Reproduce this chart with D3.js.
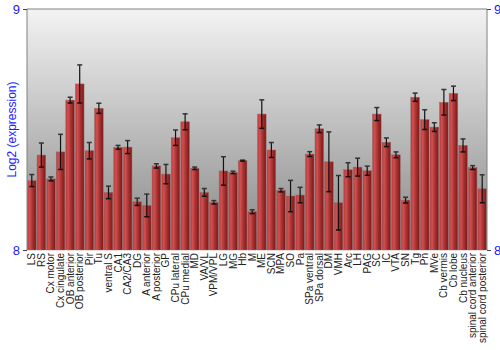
<!DOCTYPE html>
<html>
<head>
<meta charset="utf-8">
<script src="https://cdn.jsdelivr.net/npm/d3@7"></script>
<style>
  body { margin: 0; background: #fff; }
  svg { display: block; font-family: "Liberation Sans", Arial, sans-serif; }
</style>
</head>
<body>
<svg width="500" height="350" viewBox="0 0 500 350"></svg>
<script>
// Regions and their log2 expression (mean, error)
const regions = ["LS", "RS", "Cx motor", "Cx cingulate", "OB anterior", "OB posterior", "Pir", "Tu",
  "ventral S", "CA1", "CA2/CA3", "DG", "A anterior", "A posterior", "GP", "CPu lateral", "CPu medial",
  "MD", "VA/VL", "VPM/VPL", "LG", "MG", "Hb", "M", "ME", "SCN", "MPA", "SO", "Pa", "SPa ventral",
  "SPa dorsal", "DM", "VMH", "Arc", "LH", "PAG", "SC", "IC", "VTA", "SN", "Tg", "Pn", "MVe",
  "Cb vermis", "Cb lobe", "Cb nucleus", "spinal cord anterior", "spinal cord posterior"];

const means = [8.288, 8.394, 8.295, 8.407, 8.622, 8.689, 8.412, 8.588,
  8.239, 8.426, 8.427, 8.200, 8.185, 8.349, 8.315, 8.466, 8.532,
  8.339, 8.239, 8.198, 8.328, 8.322, 8.371, 8.159, 8.564, 8.415, 8.248, 8.224, 8.228, 8.398,
  8.503, 8.366, 8.196, 8.333, 8.344, 8.329, 8.564, 8.447, 8.395, 8.207, 8.634, 8.541, 8.510,
  8.613, 8.650, 8.434, 8.342, 8.254];

const errors = [0.025, 0.05, 0.008, 0.073, 0.012, 0.079, 0.034, 0.021,
  0.026, 0.008, 0.027, 0.015, 0.047, 0.009, 0.04, 0.032, 0.033,
  0.005, 0.016, 0.007, 0.059, 0.005, 0.002, 0.008, 0.059, 0.031, 0.007, 0.065, 0.032, 0.01,
  0.016, 0.124, 0.113, 0.029, 0.037, 0.019, 0.027, 0.018, 0.012, 0.012, 0.017, 0.041, 0.018,
  0.053, 0.030, 0.027, 0.008, 0.058];

const yTicks = [8, 9];

const svg = d3.select("svg");
const margin = {top: 9, right: 13, bottom: 100, left: 27};
const width = 500 - margin.left - margin.right;
const height = 350 - margin.top - margin.bottom;

const defs = svg.append("defs");

// background gradient, light at top, grey at bottom
const bg = defs.append("linearGradient").attr("id", "bg")
  .attr("x1", 0).attr("y1", 0).attr("x2", 0).attr("y2", 1);
bg.append("stop").attr("offset", "0%").attr("stop-color", "#f3f3f3");
bg.append("stop").attr("offset", "100%").attr("stop-color", "#878787");

// bar gradient, cylinder look
const barGrad = defs.append("linearGradient").attr("id", "bar")
  .attr("x1", 0).attr("y1", 0).attr("x2", 1).attr("y2", 0);
barGrad.append("stop").attr("offset", "0%").attr("stop-color", "#b53a3a");
barGrad.append("stop").attr("offset", "25%").attr("stop-color", "#d05050");
barGrad.append("stop").attr("offset", "60%").attr("stop-color", "#a83030");
barGrad.append("stop").attr("offset", "100%").attr("stop-color", "#7a1818");

const g = svg.append("g").attr("transform", `translate(${margin.left},${margin.top})`);

const x = d3.scaleBand().domain(regions).range([0, width]).paddingInner(0.1).paddingOuter(0.05);
const y = d3.scaleLinear().domain([8, 9]).range([height, 0]);

g.append("rect")
  .attr("width", width).attr("height", height)
  .attr("fill", "url(#bg)");

// bars
g.selectAll(".bar")
  .data(regions)
  .enter()
  .append("rect")
  .attr("class", "bar")
  .attr("x", d => x(d))
  .attr("y", (d, i) => y(means[i]))
  .attr("width", x.bandwidth())
  .attr("height", (d, i) => height - y(means[i]))
  .attr("fill", "url(#bar)")
  .attr("stroke", "#9a6a6a")
  .attr("stroke-width", 0.5);

// error bars
const err = g.selectAll(".err")
  .data(regions)
  .enter()
  .append("g")
  .attr("class", "err")
  .attr("transform", d => `translate(${x(d) + x.bandwidth() / 2},0)`);

err.append("line")
  .attr("y1", (d, i) => y(means[i] + errors[i]))
  .attr("y2", (d, i) => y(means[i] - errors[i]))
  .attr("stroke", "#111").attr("stroke-width", 1.2);
err.append("line")
  .attr("x1", -2.5).attr("x2", 2.5)
  .attr("y1", (d, i) => y(means[i] + errors[i]))
  .attr("y2", (d, i) => y(means[i] + errors[i]))
  .attr("stroke", "#333").attr("stroke-width", 1.5);
err.append("line")
  .attr("x1", -2.5).attr("x2", 2.5)
  .attr("y1", (d, i) => y(means[i] - errors[i]))
  .attr("y2", (d, i) => y(means[i] - errors[i]))
  .attr("stroke", "#111").attr("stroke-width", 1.5);

// frame
g.append("path")
  .attr("d", `M0,${height}V0H${width}V${height}`)
  .attr("fill", "none").attr("stroke", "#808080").attr("stroke-width", 1);

// left axis
const yAxisL = g.append("g")
  .call(d3.axisLeft(y).tickValues(yTicks).tickSize(4).tickFormat(d3.format("d")));
yAxisL.select(".domain").remove();
yAxisL.selectAll("line").attr("stroke", "#444");
yAxisL.selectAll("text").attr("fill", "#1a1aff").style("font-size", "13px");

// right axis
const yAxisR = g.append("g")
  .attr("transform", `translate(${width},0)`)
  .call(d3.axisRight(y).tickValues(yTicks).tickSize(4).tickFormat(d3.format("d")));
yAxisR.select(".domain").remove();
yAxisR.selectAll("line").attr("stroke", "#444");
yAxisR.selectAll("text").attr("fill", "#1a1aff").style("font-size", "13px");

// category labels
const xAxis = g.append("g")
  .attr("transform", `translate(0,${height})`)
  .call(d3.axisBottom(x).tickSize(0));
xAxis.select(".domain").remove();
xAxis.selectAll("text")
  .attr("transform", "rotate(-90)")
  .attr("x", -3).attr("y", 0).attr("dy", "0.35em")
  .attr("text-anchor", "end")
  .attr("fill", "#222")
  .style("font-size", "10px");

// y label
svg.append("text")
  .attr("transform", `translate(12,${margin.top + height / 2}) rotate(-90)`)
  .attr("text-anchor", "middle")
  .attr("dy", "0.35em")
  .attr("fill", "#1a1aff")
  .style("font-size", "12px")
  .text("Log2 (expression)");
</script>
</body>
</html>
